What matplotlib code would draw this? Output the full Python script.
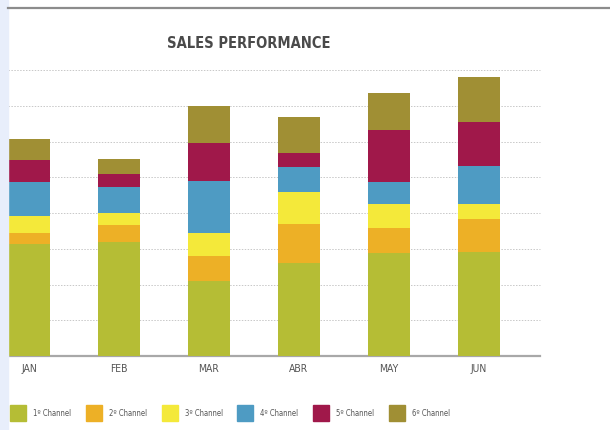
import matplotlib
matplotlib.use("Agg")
import matplotlib.pyplot as plt
from matplotlib.patches import Rectangle
from matplotlib.lines import Line2D
from matplotlib import font_manager
import numpy as np

# Dados (valores empilhados por canal)
months = ["JAN", "FEB", "MAR", "ABR", "MAY", "JUN"]
channels = ["1º Channel", "2º Channel", "3º Channel", "4º Channel", "5º Channel", "6º Channel"]
ch1 = [31.3, 32.0, 21.0, 26.1, 28.9, 29.0]
ch2 = [3.1, 4.6, 7.0, 10.7, 7.0, 9.2]
ch3 = [4.8, 3.5, 6.5, 9.0, 6.5, 4.2]
ch4 = [9.6, 7.3, 14.5, 7.2, 6.4, 10.7]
ch5 = [6.0, 3.5, 10.5, 3.7, 14.4, 12.4]
ch6 = [5.8, 4.2, 10.5, 10.1, 10.5, 12.6]
yticks = [10, 20, 30, 40, 50, 60, 70, 80]

colors = ["#B5BD35", "#EDB026", "#F4E93A", "#4E9BC3", "#A0184A", "#A08F34"]

# procura arquivos de fonte condensada (negrito e normal)
files = sorted(f.fname for f in font_manager.fontManager.ttflist)
cond = [p for p in files if ("condensed" in p.lower() or "narrow" in p.lower())
        and "italic" not in p.lower() and "oblique" not in p.lower()]
bold_files = [p for p in cond if "bold" in p.lower() and "semi" not in p.lower()]
reg_files = [p for p in cond if "bold" not in p.lower() and "light" not in p.lower()
             and "thin" not in p.lower() and "medium" not in p.lower()]


def fp(paths, size, fallback_weight="normal"):
    if paths:
        return font_manager.FontProperties(fname=paths[0], size=size)
    return font_manager.FontProperties(family="DejaVu Sans", size=size,
                                       weight=fallback_weight)


fig = plt.figure(figsize=(6.1, 4.3), dpi=100)
W, H = 610, 430

# faixa azul clara na esquerda e linha cinza no topo
fig.patches.append(Rectangle((0, 0), 8 / W, 1, transform=fig.transFigure,
                             color="#E8EEFB", zorder=0))
fig.lines.append(Line2D([8 / W, 1], [1 - 8 / H, 1 - 8 / H], transform=fig.transFigure,
                        color="#8C8C8C", lw=1.6))

ax = fig.add_axes([8 / W, 1 - 356 / H, 532 / W, 286 / H])
x = np.arange(len(months))
bottom = np.zeros(len(months))
for vals, c in zip([ch1, ch2, ch3, ch4, ch5, ch6], colors):
    ax.bar(x, vals, width=0.467, bottom=bottom, color=c, zorder=3)
    bottom += np.array(vals)

ax.set_xlim(-0.233, 5.678)
ax.set_ylim(0, 80)
for v in yticks:
    ax.axhline(v, color="#C8C8C8", lw=0.7, ls=(0, (1.5, 1.5)), zorder=1, clip_on=False)

ax.set_yticks([])
ax.set_xticks(x)
ax.set_xticklabels(months, fontproperties=fp(reg_files, 7.5), color="#555555")
ax.tick_params(axis="x", length=0, pad=6)
for s in ["top", "left", "right"]:
    ax.spines[s].set_visible(False)
ax.spines["bottom"].set_color("#A8A8A8")
ax.spines["bottom"].set_linewidth(1.6)
ax.set_facecolor("none")

fig.text(249 / W, 1 - 44 / H, "SALES PERFORMANCE", fontproperties=fp(bold_files, 10.5, "bold"),
         color="#4A4A4A", ha="center", va="center")

# legenda manual
for i, (name, c) in enumerate(zip(channels, colors)):
    x0 = 10 + i * 75.8
    fig.patches.append(Rectangle((x0 / W, 1 - 421 / H), 16 / W, 16 / H,
                                 transform=fig.transFigure, color=c))
    fig.text((x0 + 23) / W, 1 - 413 / H, name, fontproperties=fp(reg_files, 5.5),
             color="#555555", ha="left", va="center")

fig.savefig("out.png", dpi=100)
